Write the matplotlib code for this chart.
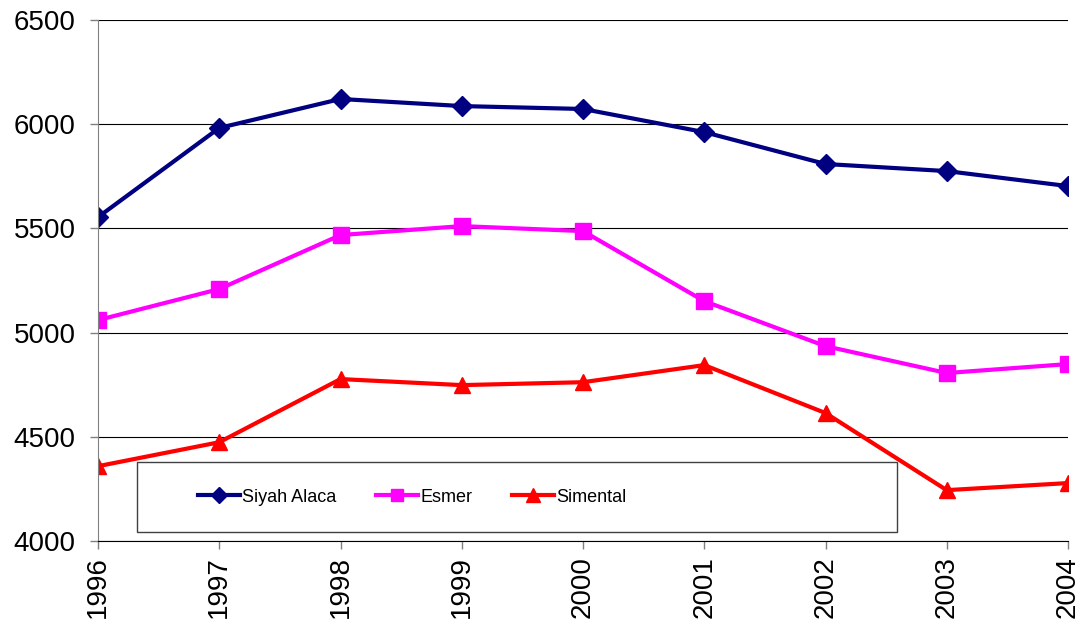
import matplotlib.pyplot as plt
from matplotlib.patches import Rectangle

plt.rcParams['font.family'] = ['Liberation Sans', 'DejaVu Sans']

years = [1996, 1997, 1998, 1999, 2000, 2001, 2002, 2003, 2004]
siyah_alaca = [5554, 5982, 6121, 6087, 6073, 5962, 5809, 5775, 5703]
esmer = [5060, 5209, 5468, 5511, 5487, 5151, 4935, 4806, 4849]
simental = [4359, 4474, 4777, 4748, 4762, 4844, 4614, 4244, 4278]

fig = plt.figure(figsize=(10.87, 6.28), dpi=100)
ax = fig.add_axes([98 / 1087, 87 / 628, 970 / 1087, 521 / 628])

ax.plot(years, siyah_alaca, color='#000080', linewidth=3, marker='D', markersize=10, label='Siyah Alaca')
ax.plot(years, esmer, color='#FF00FF', linewidth=3, marker='s', markersize=11, label='Esmer')
ax.plot(years, simental, color='#FF0000', linewidth=3, marker='^', markersize=12, label='Simental')

ax.set_xlim(1996, 2004)
ax.set_ylim(4000, 6500)
ax.set_xticks(years)
ax.set_xticklabels([str(y) for y in years], rotation=90)
ax.set_yticks(range(4000, 6501, 500))
ax.tick_params(axis='both', labelsize=20, length=6, color='#808080', width=1)
ax.tick_params(axis='y', pad=10)
ax.tick_params(axis='x', pad=5)
ax.yaxis.grid(True, color='black', linewidth=0.8)
ax.set_axisbelow(True)

for side in ['top', 'right']:
    ax.spines[side].set_visible(False)
ax.spines['left'].set_color('#808080')
ax.spines['bottom'].set_color('black')
ax.spines['bottom'].set_linewidth(0.8)

# legend frame drawn separately, entries sit left of center
fig.patches.append(Rectangle((137 / 1087, 1 - 532 / 628), 760 / 1087, 70 / 628,
                             transform=fig.transFigure, facecolor='white',
                             edgecolor='#404040', linewidth=1, zorder=5))
leg = fig.legend(loc='center left', bbox_to_anchor=(182 / 1087, 1 - 497 / 628),
                 ncol=3, frameon=False, fontsize=13, handlelength=2.3,
                 handletextpad=0.15, columnspacing=2.2, markerscale=0.8)
leg.set_zorder(6)

fig.savefig('out.png', dpi=100)
